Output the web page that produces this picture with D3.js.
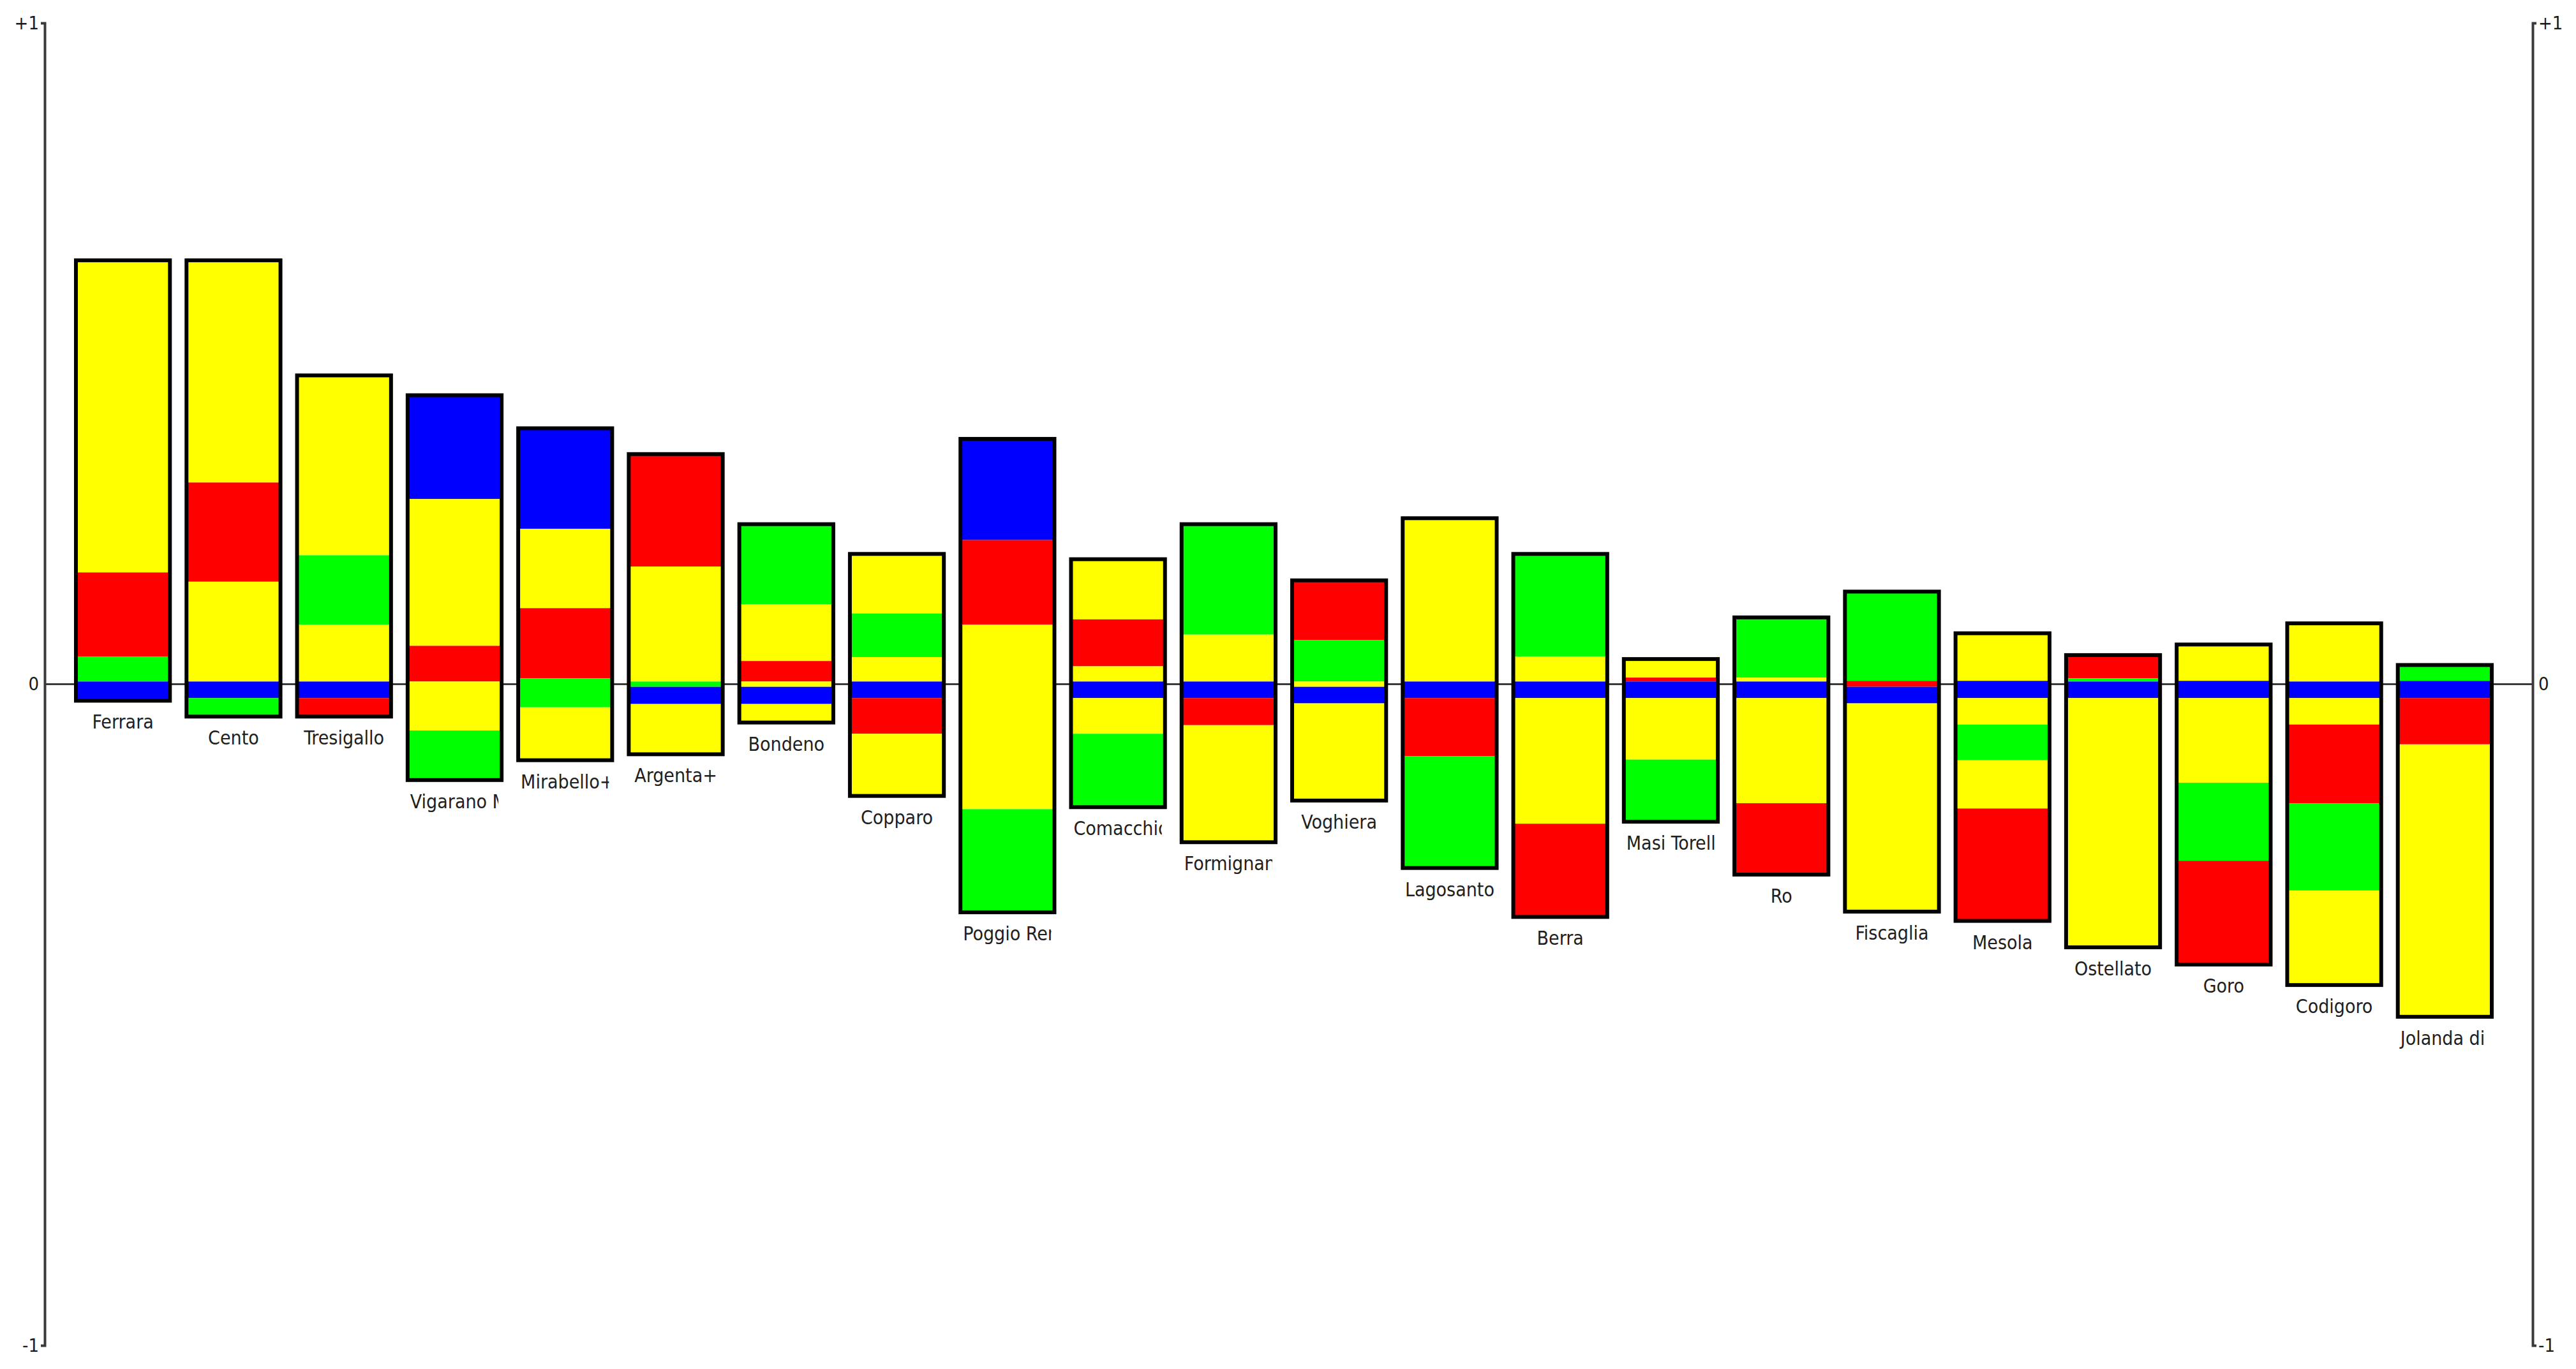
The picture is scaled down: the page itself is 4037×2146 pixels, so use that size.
<!DOCTYPE html>
<html lang="en">
    <head>
        <meta charset="utf-8">
        <title>Bars</title>
        <script type="text/javascript" src="https://cdn.jsdelivr.net/npm/d3@7"></script>
        <style>
            body { margin: 0; background: #fff; }
        </style>
    </head>
    <body>
        <div class="chart"></div>

        <script type="text/javascript">
            // municipalities, left to right
            var names = ["Ferrara", "Cento", "Tresigallo", "Vigarano Mainarda", "Mirabello+", "Argenta+",
                         "Bondeno", "Copparo", "Poggio Renatico", "Comacchio", "Formignana", "Voghiera",
                         "Lagosanto", "Berra", "Masi Torello", "Ro", "Fiscaglia", "Mesola",
                         "Ostellato", "Goro", "Codigoro", "Jolanda di Savoia"];

            // where each bar starts (top)
            var tops = [0.641, 0.641, 0.467, 0.437, 0.387, 0.348, 0.242, 0.197, 0.371, 0.189, 0.242,
                        0.157, 0.251, 0.197, 0.038, 0.101, 0.140, 0.077, 0.044, 0.060, 0.092, 0.029];

            // pieces of each bar, top to bottom: colour key and size
            var segColors = [
                ["Y", "R", "G", "B"],
                ["Y", "R", "Y", "B", "G"],
                ["Y", "G", "Y", "B", "R"],
                ["B", "Y", "R", "Y", "G"],
                ["B", "Y", "R", "G", "Y"],
                ["R", "Y", "G", "B", "Y"],
                ["G", "Y", "R", "Y", "B", "Y"],
                ["Y", "G", "Y", "B", "R", "Y"],
                ["B", "R", "Y", "G"],
                ["Y", "R", "Y", "B", "Y", "G"],
                ["G", "Y", "B", "R", "Y"],
                ["R", "G", "Y", "B", "Y"],
                ["Y", "B", "R", "G"],
                ["G", "Y", "B", "Y", "R"],
                ["Y", "R", "B", "Y", "G"],
                ["G", "Y", "B", "Y", "R"],
                ["G", "R", "B", "Y"],
                ["Y", "B", "Y", "G", "Y", "R"],
                ["R", "G", "B", "Y"],
                ["Y", "B", "Y", "G", "R"],
                ["Y", "B", "Y", "R", "G", "Y"],
                ["G", "B", "R", "Y"]
            ];
            var segSizes = [
                [0.472, 0.127, 0.038, 0.029],
                [0.336, 0.150, 0.151, 0.025, 0.028],
                [0.272, 0.105, 0.086, 0.025, 0.028],
                [0.157, 0.222, 0.054, 0.074, 0.075],
                [0.152, 0.120, 0.106, 0.044, 0.080],
                [0.170, 0.174, 0.008, 0.026, 0.076],
                [0.121, 0.086, 0.031, 0.008, 0.026, 0.028],
                [0.090, 0.066, 0.037, 0.025, 0.054, 0.094],
                [0.153, 0.128, 0.279, 0.156],
                [0.091, 0.071, 0.023, 0.025, 0.054, 0.111],
                [0.167, 0.071, 0.025, 0.041, 0.177],
                [0.090, 0.063, 0.008, 0.025, 0.147],
                [0.247, 0.025, 0.088, 0.169],
                [0.155, 0.038, 0.025, 0.190, 0.141],
                [0.028, 0.006, 0.025, 0.093, 0.094],
                [0.091, 0.006, 0.025, 0.159, 0.108],
                [0.135, 0.009, 0.025, 0.315],
                [0.072, 0.026, 0.040, 0.054, 0.073, 0.170],
                [0.035, 0.005, 0.025, 0.377],
                [0.055, 0.026, 0.128, 0.118, 0.157],
                [0.088, 0.025, 0.040, 0.119, 0.132, 0.143],
                [0.024, 0.026, 0.070, 0.412]
            ];

            var tickVals = [-1, 0, 1];
            var tickText = ["-1", "0", "+1"];

            var colors = {Y: "#ffff00", R: "#ff0000", G: "#00ff00", B: "#0000ff"};

            var width = 4037;
            var height = 2146;
            var labelFont = "'DejaVu Sans Condensed', 'Noto Sans', sans-serif";

            // build one record per bar
            var bars = names.map(function(n, i) {
                var cur = tops[i];
                var segs = segSizes[i].map(function(s, j) {
                    var seg = {key: segColors[i][j], hi: cur, lo: cur - s};
                    cur = cur - s;
                    return seg;
                });
                return {name: n, top: tops[i], bottom: cur, segs: segs};
            });

            var x_scale = d3.scaleBand()
                            .domain(names)
                            .range([119, 3905])
                            .paddingInner(0.15)
                            .paddingOuter(0);

            var y_scale = d3.scaleLinear()
                            .domain([-1, 1])
                            .range([2109, 36]);

            var axisLeftX = 70, axisRightX = 3969;

            var svg = d3.select(".chart")
                        .append("svg")
                        .attr("width", width)
                        .attr("height", height)
                        .style("display", "block");

            svg.append("rect")
                .attr("width", width)
                .attr("height", height)
                .attr("fill", "#fff");

            // zero line goes behind the bars
            svg.append("line")
                .attr("x1", axisLeftX)
                .attr("x2", axisRightX)
                .attr("y1", y_scale(0))
                .attr("y2", y_scale(0))
                .attr("stroke", "#3a3a3a")
                .attr("stroke-width", 3);

            var g = svg.selectAll("g.bar")
                        .data(bars)
                        .enter()
                        .append("g")
                        .attr("class", "bar")
                        .attr("transform", function(d) { return "translate(" + x_scale(d.name) + ",0)"; });

            g.selectAll("rect.seg")
                .data(function(d) { return d.segs; })
                .enter()
                .append("rect")
                .attr("class", "seg")
                .attr("x", 0)
                .attr("y", function(d) { return y_scale(d.hi); })
                .attr("width", x_scale.bandwidth())
                .attr("height", function(d) { return y_scale(d.lo) - y_scale(d.hi); })
                .attr("fill", function(d) { return colors[d.key]; });

            g.append("rect")
                .attr("class", "outline")
                .attr("x", 0)
                .attr("y", function(d) { return y_scale(d.top); })
                .attr("width", x_scale.bandwidth())
                .attr("height", function(d) { return y_scale(d.bottom) - y_scale(d.top); })
                .attr("fill", "none")
                .attr("stroke", "#000")
                .attr("stroke-width", 6);

            // labels under bars; long ones start at the left and get cut near the right edge
            var bw = x_scale.bandwidth();
            svg.append("defs")
                .append("clipPath")
                .attr("id", "labelclip")
                .append("rect")
                .attr("x", 0)
                .attr("y", 0)
                .attr("width", bw - 5)
                .attr("height", height);

            g.append("text")
                .attr("y", function(d) { return y_scale(d.bottom) + 44; })
                .attr("font-family", labelFont)
                .attr("font-size", 30)
                .attr("fill", "#202020")
                .text(function(d) { return d.name; })
                .each(function() {
                    var t = d3.select(this);
                    var w = this.getComputedTextLength();
                    if (w > bw - 4) {
                        t.attr("x", 4)
                         .attr("text-anchor", "start")
                         .attr("clip-path", "url(#labelclip)");
                    } else {
                        t.attr("x", bw / 2).attr("text-anchor", "middle");
                    }
                });

            // axes on both sides
            var yAxisL = d3.axisLeft(y_scale)
                            .tickValues(tickVals)
                            .tickFormat(function(d, i) { return tickText[i]; })
                            .tickSizeInner(0)
                            .tickSizeOuter(6)
                            .tickPadding(9);

            var yAxisR = d3.axisRight(y_scale)
                            .tickValues(tickVals)
                            .tickFormat(function(d, i) { return tickText[i]; })
                            .tickSizeInner(0)
                            .tickSizeOuter(6)
                            .tickPadding(9);

            [[yAxisL, axisLeftX], [yAxisR, axisRightX]].forEach(function(a) {
                var ax = svg.append("g")
                            .attr("transform", "translate(" + a[1] + ",0)")
                            .call(a[0]);
                ax.select(".domain")
                    .attr("stroke", "#3a3a3a")
                    .attr("stroke-width", 4);
                ax.selectAll("text")
                    .attr("font-family", labelFont)
                    .attr("font-size", 29)
                    .attr("fill", "#1a1a1a");
            });
        </script>
    </body>
</html>
